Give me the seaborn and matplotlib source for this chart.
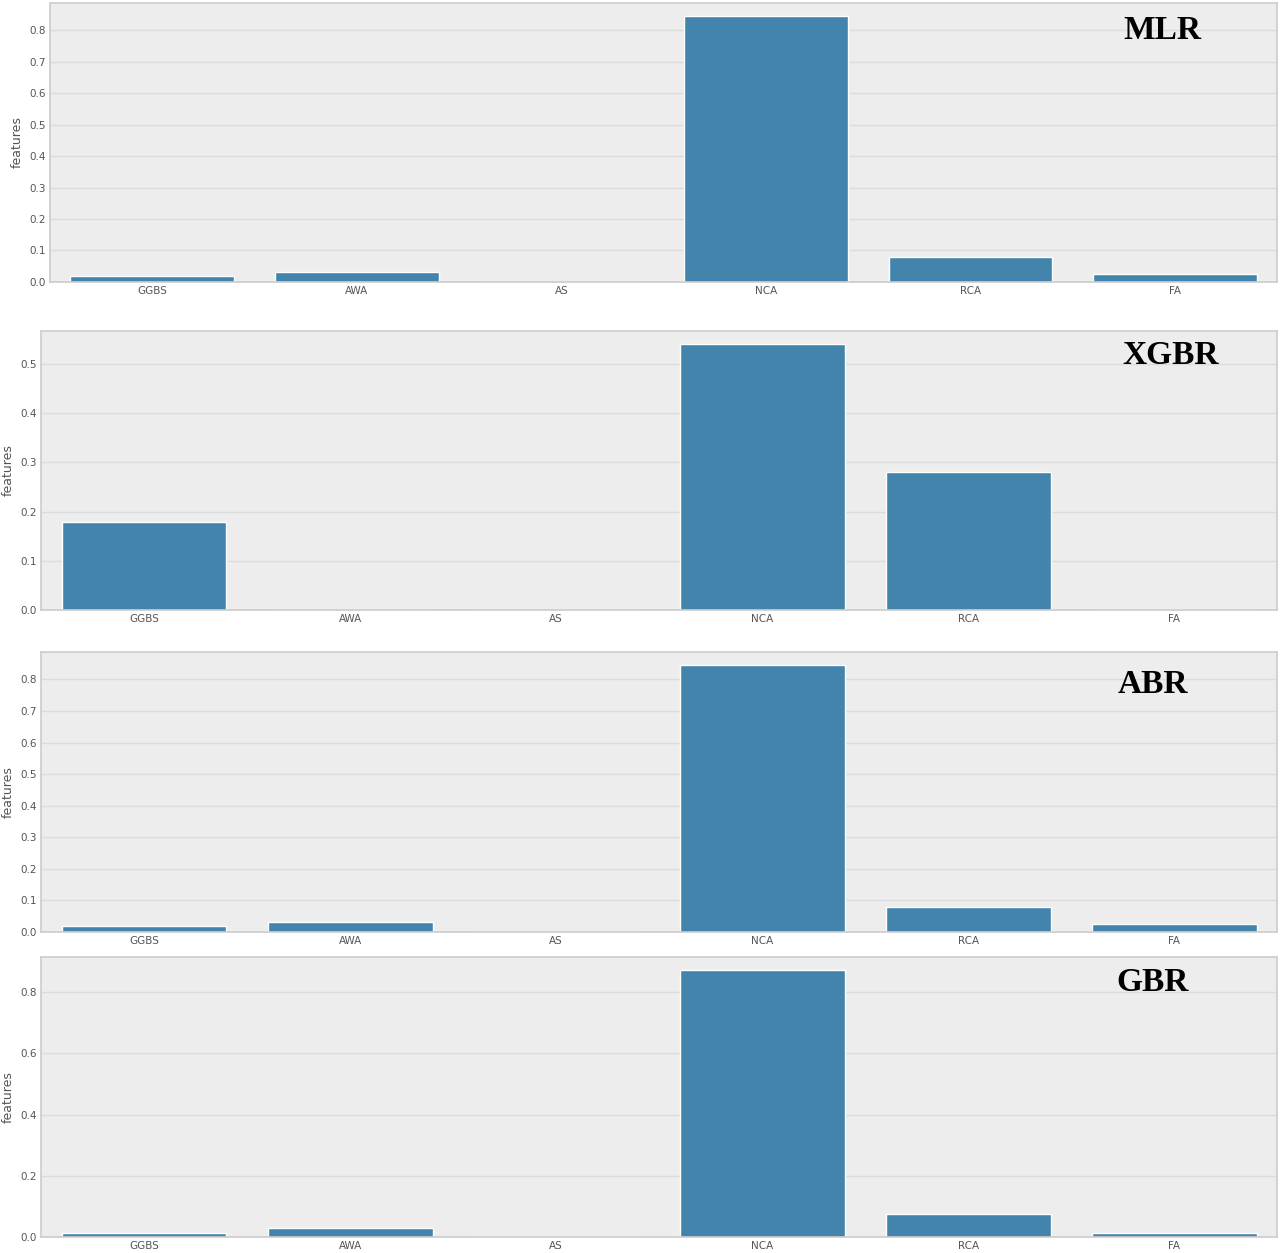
import numpy as np
import pandas as pd
import matplotlib
matplotlib.use('Agg')
import matplotlib.pyplot as plt
import seaborn as sns

features = ['GGBS', 'AWA', 'AS', 'NCA', 'RCA', 'FA']

mlr = [0.020, 0.033, 0.0, 0.845, 0.078, 0.025]
xgbr = [0.179, 0.0, 0.0, 0.540, 0.280, 0.0]
abr = [0.019, 0.032, 0.0, 0.845, 0.079, 0.025]
gbr = [0.013, 0.029, 0.0, 0.872, 0.075, 0.013]

models = ['MLR', 'XGBR', 'ABR', 'GBR']
scores = [mlr, xgbr, abr, gbr]

sns.set_theme(style='whitegrid')
plt.rcParams['font.family'] = ['DejaVu Sans']

fig = plt.figure(figsize=(12.8, 12.53), dpi=100)

# panel boxes (left, bottom, width, height) in figure fractions
boxes = [
    (0.039, 0.775, 0.959, 0.2227),
    (0.032, 0.5132, 0.966, 0.2227),
    (0.032, 0.2562, 0.966, 0.2235),
    (0.032, 0.0128, 0.966, 0.2235),
]
title_pos = [(0.906, 0.90), (0.914, 0.912), (0.899, 0.882), (0.899, 0.908)]
yticks = [np.arange(0, 0.81, 0.1), np.arange(0, 0.51, 0.1),
          np.arange(0, 0.81, 0.1), np.arange(0, 0.81, 0.2)]

for box, name, vals, tpos, yt in zip(boxes, models, scores, title_pos, yticks):
    ax = fig.add_axes(box)
    df = pd.DataFrame({'feature': features, 'score': vals})
    sns.barplot(data=df, x='feature', y='score', color='#4384ad', saturation=1,
                width=0.8, ax=ax)
    ax.set_facecolor('#ededed')
    ax.set_xlim(-0.5, 5.5)
    ax.set_ylim(0, max(vals) * 1.05)
    ax.set_yticks(yt)
    ax.set_yticklabels(['%.1f' % v for v in yt])
    ax.grid(axis='y', color='#dcdcdc', linewidth=1)
    ax.grid(axis='x', visible=False)
    ax.set_axisbelow(True)
    for s in ax.spines.values():
        s.set_color('#cccccc')
        s.set_linewidth(1.2)
    ax.tick_params(axis='both', labelsize=7.5, colors='#555555', length=0, pad=3)
    ax.set_xlabel('')
    ax.set_ylabel('features', fontsize=9, color='#555555', labelpad=4)
    ax.text(tpos[0], tpos[1], name, transform=ax.transAxes, ha='center', va='center',
            fontsize=24, fontweight='bold', family='Liberation Serif', color='black')

fig.savefig('out.png', dpi=100)
